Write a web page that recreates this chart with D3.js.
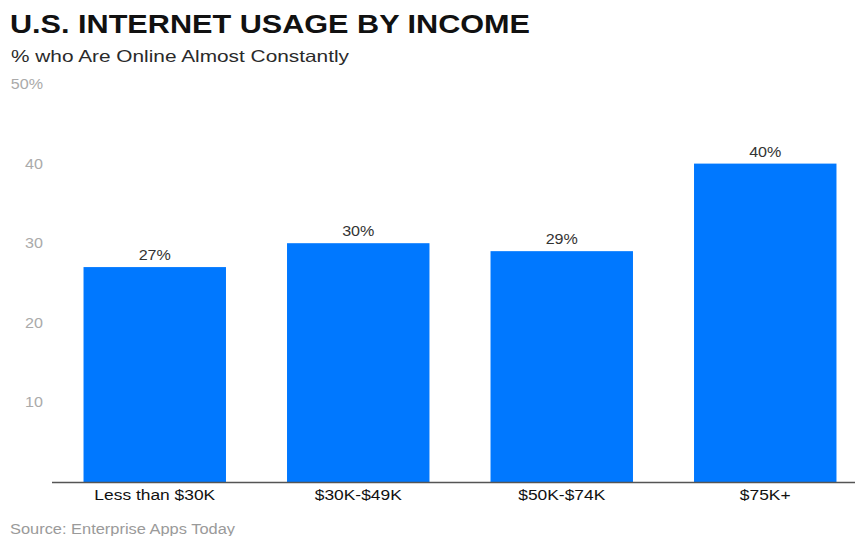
<!DOCTYPE html>
<html><head><meta charset="utf-8">
<script src="https://d3js.org/d3.v7.min.js"></script>
<style>body{margin:0;background:#fff;} svg{display:block;}</style>
</head><body>
<script>
const categories = ["Less than $30K", "$30K-$49K", "$50K-$74K", "$75K+"];
const values = [27, 30, 29, 40];
const yTicks = [10, 20, 30, 40, 50];
const title = "U.S. INTERNET USAGE BY INCOME";
const subtitle = "% who Are Online Almost Constantly";
const source = "Source: Enterprise Apps Today";

const W = 855, H = 536;
const FONT = "Liberation Sans, Arial, Helvetica, sans-serif";
const svg = d3.select("body").append("svg").attr("width", W).attr("height", H);

const x = d3.scaleBand().domain(categories).range([53, 867]).paddingInner(0.3).paddingOuter(0.15);
const y = d3.scaleLinear().domain([0, 50]).range([482, 84]);

svg.append("text").attr("x", 10).attr("y", 33).text(title)
  .attr("font-family", FONT).attr("font-weight", "bold")
  .attr("font-size", 26).attr("fill", "#111")
  .attr("textLength", 520).attr("lengthAdjust", "spacingAndGlyphs");
svg.append("text").attr("x", 11).attr("y", 62).text(subtitle)
  .attr("font-family", FONT).attr("font-size", 16.5).attr("fill", "#2a2a2a")
  .attr("textLength", 338).attr("lengthAdjust", "spacingAndGlyphs");

// y tick labels
svg.selectAll(".yt").data(yTicks).enter().append("text")
  .attr("transform", d => `translate(43,${y(d)}) scale(1.15,1)`)
  .attr("dy", "0.35em").attr("text-anchor", "end")
  .text(d => d === 50 ? d + "%" : d)
  .attr("font-family", FONT).attr("font-size", 14).attr("fill", "#aaaaaa");

svg.selectAll(".bar").data(values).enter().append("rect")
  .attr("x", (d, i) => x(categories[i])).attr("width", x.bandwidth())
  .attr("y", d => y(d)).attr("height", d => y(0) - y(d))
  .attr("fill", "#0078ff");

svg.selectAll(".vl").data(values).enter().append("text")
  .attr("transform", (d, i) => `translate(${x(categories[i]) + x.bandwidth() / 2},${y(d) - 7}) scale(1.15,1)`)
  .attr("text-anchor", "middle").text(d => d + "%")
  .attr("font-family", FONT).attr("font-size", 14).attr("fill", "#333");

const xAxis = svg.append("g").attr("transform", `translate(0,${y(0)})`)
  .call(d3.axisBottom(x).tickSize(0).tickPadding(8));
xAxis.select(".domain").remove();
xAxis.selectAll("text").attr("font-family", FONT).attr("font-size", 14.5).attr("fill", "#111")
  .attr("transform", "scale(1.2,1)");
svg.append("line").attr("x1", 52).attr("x2", W).attr("y1", y(0) + 0.5).attr("y2", y(0) + 0.5)
  .attr("stroke", "#555").attr("stroke-width", 1.5);

svg.append("text").attr("x", 10).attr("y", 534).text(source)
  .attr("font-family", FONT).attr("font-size", 14).attr("fill", "#9a9a9a")
  .attr("textLength", 225).attr("lengthAdjust", "spacingAndGlyphs");
</script>
</body></html>
